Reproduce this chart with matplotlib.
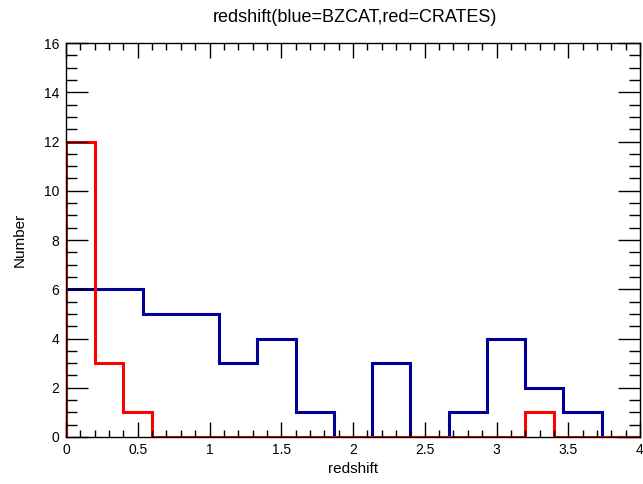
import numpy as np
import matplotlib.pyplot as plt
from matplotlib.ticker import MultipleLocator, FuncFormatter

plt.rcParams['font.family'] = ['Liberation Sans', 'DejaVu Sans']

# BZCAT: 15 bins over [0, 4]
bzcat_counts = [6, 6, 5, 5, 3, 4, 1, 0, 3, 0, 1, 4, 2, 1, 0]
bzcat_nbins = 15
# CRATES: 20 bins over [0, 4]
crates_counts = [12, 3, 1, 0, 0, 0, 0, 0, 0, 0, 0, 0, 0, 0, 0, 0, 1, 0, 0, 0]
crates_nbins = 20
x_range = (0, 4)

fig = plt.figure(figsize=(6.43, 4.84), dpi=100)
ax = fig.add_axes([66 / 643, 47 / 484, 574 / 643, 394 / 484])

edges_b = np.linspace(x_range[0], x_range[1], bzcat_nbins + 1)
edges_r = np.linspace(x_range[0], x_range[1], crates_nbins + 1)
ax.stairs(bzcat_counts, edges_b, color='#000099', lw=2.2)
ax.stairs(crates_counts, edges_r, color='#ff0000', lw=2.2)

ax.set_xlim(0, 4)
ax.set_ylim(0, 16)
ax.xaxis.set_major_locator(MultipleLocator(0.5))
ax.xaxis.set_minor_locator(MultipleLocator(0.1))
ax.yaxis.set_major_locator(MultipleLocator(2))
ax.yaxis.set_minor_locator(MultipleLocator(0.5))
fmt = FuncFormatter(lambda v, p: '%g' % v)
ax.xaxis.set_major_formatter(fmt)
ax.yaxis.set_major_formatter(fmt)

ax.tick_params(which='both', direction='in', top=True, right=True,
               width=1, labelsize=10, colors='black')
ax.tick_params(axis='x', which='major', length=11, pad=4)
ax.tick_params(axis='x', which='minor', length=5)
ax.tick_params(axis='y', which='major', length=16, pad=5)
ax.tick_params(axis='y', which='minor', length=8)
for spine in ax.spines.values():
    spine.set_linewidth(1)

ax.set_xlabel('redshift', fontsize=11, labelpad=4)
ax.set_ylabel('Number', fontsize=11, labelpad=12)
fig.text(355 / 643, 1 - 18 / 484, 'redshift(blue=BZCAT,red=CRATES)',
         ha='center', va='center', fontsize=13)

fig.savefig('out.png', dpi=100)
